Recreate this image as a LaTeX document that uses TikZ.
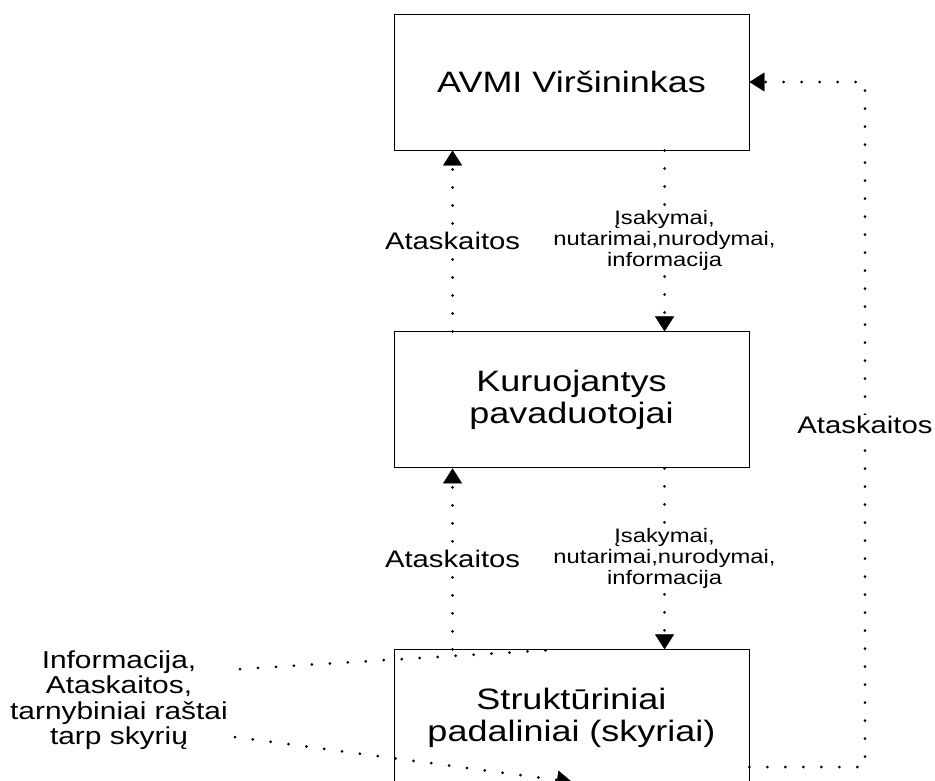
\documentclass[tikz,border=0pt]{standalone}
\usepackage{fontspec}
\setmainfont{Liberation Sans}[FakeStretch=1.22]
\usetikzlibrary{positioning,calc,arrows.meta}

\begin{document}
\begin{tikzpicture}[
    x=1pt, y=-1pt,
    node distance=181pt,
    box/.style={draw, line width=0.9pt, minimum width=355pt, minimum height=136pt, inner sep=0pt, align=center, font=\fontsize{29.5}{32}\selectfont},
    lbl/.style={fill=white, inner sep=1pt, align=center, font=\fontsize{24}{26}\selectfont},
    smalllbl/.style={lbl, font=\fontsize{19.5}{21}\selectfont},
    sidelbl/.style={align=center, inner sep=0pt, font=\fontsize{24.5}{25.5}\selectfont},
    dotline/.style={line width=3pt, line cap=round, dash pattern=on 0pt off 18pt},
    dotarrow/.style={dotline, -{Triangle[length=15pt, width=19pt, line width=0.4pt]}}
]
\useasboundingbox (0,0) rectangle (935,780);

% Boxes
\node[box] (chief) at (571.5,82) {AVMI Viršininkas};
\node[box, below=of chief] (deputies) {Kuruojantys\\pavaduotojai};
\node[box, below=of deputies] (units) {Struktūriniai\\padaliniai (skyriai)};

% Side label
\node[sidelbl] (info) at (119,700) {Informacija,\\Ataskaitos,\\tarnybiniai raštai\\tarp skyrių};

% Helper coordinates
\coordinate (cornerB) at (865,767);
\coordinate (cornerT) at (chief.east -| cornerB);
\coordinate (infoTop) at (240,669);
\coordinate (infoBot) at (235,737);
\coordinate (infoTip) at (572,782);

% Reports up / orders down
\draw[dotarrow] ($(deputies.north west)+(59,0)$) -- node[lbl] {Ataskaitos} ($(chief.south west)+(59,0)$);
\draw[dotarrow] ($(chief.south west)+(271,0)$) -- node[smalllbl] {Įsakymai,\\nutarimai,nurodymai,\\informacija} ($(deputies.north west)+(271,0)$);
\draw[dotarrow] ($(units.north west)+(59,0)$) -- node[lbl] {Ataskaitos} ($(deputies.south west)+(59,0)$);
\draw[dotarrow] ($(deputies.south west)+(271,0)$) -- node[smalllbl] {Įsakymai,\\nutarimai,nurodymai,\\informacija} ($(units.north west)+(271,0)$);

% Direct reports to the chief
\draw[dotarrow] (units.east |- cornerB) -- (cornerB) -- node[lbl] {Ataskaitos} (cornerT) -- (chief.east);

% Exchange between units
\draw[dotline] (infoTop) -- ($(units.north west)+(168,0)$);
\draw[dotarrow] (infoBot) -- (infoTip);

\end{tikzpicture}
\end{document}
